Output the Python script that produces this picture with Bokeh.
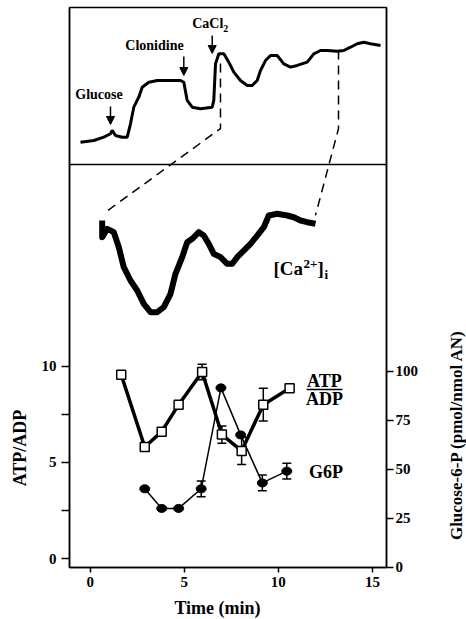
import math
from bokeh.plotting import figure
from bokeh.layouts import row, column
from bokeh.models import (Range1d, LinearAxis, FixedTicker, Span, Label, Arrow,
                          NormalHead, Whisker, TeeHead, ColumnDataSource)
from bokeh.embed import file_html
from bokeh.resources import INLINE

# ---------------- data ----------------
# ATP/ADP ratio (left axis)
atp_time = [1.65, 2.9, 3.8, 4.7, 5.95, 7.0, 8.05, 9.2, 10.6]
atp_ratio = [9.55, 5.8, 6.6, 8.0, 9.7, 6.45, 5.6, 8.0, 8.85]
atp_err_time = [5.95, 7.0, 8.05, 9.2]
atp_err_val = [9.7, 6.45, 5.6, 8.0]
atp_err = [0.4, 0.45, 0.7, 0.85]

# Glucose-6-P (right axis)
g6p_time = [2.9, 3.8, 4.7, 5.9, 6.95, 8.0, 9.15, 10.45]
g6p_val = [40.0, 30.0, 30.0, 40.0, 91.5, 67.5, 43.0, 49.0]
g6p_err_time = [5.9, 9.15, 10.45]
g6p_err_val = [40.0, 43.0, 49.0]
g6p_err = [4.0, 4.0, 4.0]

left_ticks = [0, 5, 10]
left_minor = [2.5, 7.5]
right_ticks = [0, 25, 50, 75, 100]
time_ticks = [0, 5, 10, 15]

# full [Ca2+]i recording (arbitrary time / ratio units)
trace_time = [3.47, 7.67, 10.82, 12.93, 13.47, 14.51, 16.62, 18.20, 19.24, 20.28,
              21.86, 22.93, 25.02, 27.67, 30.82, 35.02, 36.06, 37.13, 38.71, 41.32,
              45.02, 45.52, 46.06, 47.10, 48.68, 50.25, 51.83, 53.94, 56.06, 57.63,
              59.21, 60.25, 61.83, 63.41, 65.52, 67.60, 69.72, 71.83, 74.98, 77.07,
              79.18, 81.29, 84.45, 86.53, 88.64, 90.76, 92.84, 94.95, 98.11]
trace_ratio = [14.2, 15.3, 17.4, 19.6, 21.7, 18.5, 17.4, 17.4, 25.9, 36.5,
               42.9, 49.2, 52.4, 53.5, 53.5, 53.5, 52.4, 40.8, 36.5, 35.5,
               36.5, 40.8, 64.1, 70.5, 70.5, 65.2, 58.8, 53.5, 50.3, 50.3,
               53.5, 59.9, 66.2, 69.4, 69.4, 64.1, 62.0, 63.1, 65.2, 70.5,
               72.6, 72.6, 72.2, 72.6, 74.7, 76.9, 77.9, 76.9, 75.8]

# expanded segment of the recording (after CaCl2)
zoom_time = [47.40, 47.40, 48.28, 49.44, 50.32, 51.19, 52.37, 53.55, 54.71, 55.88,
             57.06, 58.22, 59.40, 60.27, 61.45, 62.33, 63.21, 64.37, 65.24, 66.12,
             67.00, 68.18, 69.35, 70.23, 71.11, 72.27, 73.45, 74.62, 75.78, 76.66,
             78.13, 79.89, 81.05, 82.23, 83.40, 84.86]
zoom_ratio = [70.95, 67.19, 69.08, 68.32, 64.94, 60.43, 57.44, 55.19, 52.19, 50.30,
              50.30, 51.43, 54.44, 58.95, 62.69, 66.06, 66.83, 68.32, 67.57, 65.70,
              63.45, 62.69, 61.20, 61.20, 62.69, 64.19, 65.70, 67.57, 69.44, 72.08,
              72.46, 72.08, 71.69, 70.95, 70.57, 70.21]
zoom_window = [47.63, 84.86]      # recording times expanded below

events = ["Glucose", "Clonidine", "CaCl"]
event_time = [12.93, 36.06, 45.02]

# ---------------- layout ----------------
TOTAL_W, TOTAL_H = 466, 619
LW, RW = 28, 26                   # side strips holding the vertical titles
MW, MH = TOTAL_W - LW - RW, 595   # main figure
TH = TOTAL_H - MH                 # bottom strip holding the time title
BL, BR, BT, BB = 41, 54, 7, 28
FL, FR = BL, MW - BR
FT, FB = BT, MH - BB

FONT = "Liberation Serif"
lab_kw = dict(text_font=FONT, text_font_style="bold", text_color="black")


def strip(w, h):
    f = figure(width=w, height=h, output_backend="svg", toolbar_location=None,
               x_range=Range1d(0, w), y_range=Range1d(0, h),
               x_axis_type=None, y_axis_type=None, min_border=0)
    f.grid.visible = False
    f.outline_line_color = None
    f.background_fill_color = "white"
    f.border_fill_color = "white"
    return f


p = figure(width=MW, height=MH, output_backend="svg", toolbar_location=None,
           x_range=Range1d(-1.1, 15.75), y_range=Range1d(-0.452, 28.62),
           min_border_left=BL, min_border_right=BR, min_border_top=BT,
           min_border_bottom=BB, x_axis_type=None, y_axis_type=None)
p.grid.visible = False
p.outline_line_color = "black"
p.outline_line_width = 1.5
p.background_fill_color = "white"
p.border_fill_color = "white"

p.extra_y_ranges = {"g6p": Range1d(-0.15, 285.56),
                    "vtop": Range1d(-256.7, 100.0),
                    "vmid": Range1d(-7.19, 118.92)}
p.extra_x_ranges = {"ttop": Range1d(0, 100),
                    "tmid": Range1d(41.66, 97.33)}


def style_axis(ax):
    ax.axis_line_color = "black"
    ax.axis_line_width = 1.5
    ax.major_tick_line_color = "black"
    ax.major_tick_line_width = 1.5
    ax.major_tick_in = 0
    ax.major_label_text_font = FONT
    ax.major_label_text_font_style = "bold"
    ax.major_label_text_font_size = "15px"
    ax.major_label_text_color = "black"


xax = LinearAxis(ticker=FixedTicker(ticks=time_ticks))
style_axis(xax)
xax.major_tick_out = 5
xax.major_label_standoff = 4
xax.minor_tick_line_color = None
p.add_layout(xax, "below")

lax = LinearAxis(ticker=FixedTicker(ticks=left_ticks, minor_ticks=left_minor))
style_axis(lax)
lax.major_tick_out = 8
lax.minor_tick_out = 8
lax.minor_tick_in = 0
lax.minor_tick_line_color = "black"
lax.minor_tick_line_width = 1.5
lax.major_label_standoff = 5
p.add_layout(lax, "left")

rax = LinearAxis(y_range_name="g6p", ticker=FixedTicker(ticks=right_ticks))
style_axis(rax)
rax.major_tick_out = 7
rax.major_label_standoff = 2
rax.minor_tick_line_color = None
p.add_layout(rax, "right")

# divider between the recording panel and the lower panel
p.add_layout(Span(location=0, dimension="width", y_range_name="vtop",
                  line_color="black", line_width=1.5))

# ---------- recordings ----------
p.line(trace_time, trace_ratio, x_range_name="ttop", y_range_name="vtop",
       line_color="black", line_width=3)
p.line(zoom_time, zoom_ratio, x_range_name="tmid", y_range_name="vmid",
       line_color="black", line_width=6, line_join="round")


def to_px(v, r, a, b):
    return a + (v - r.start) / (r.end - r.start) * (b - a)


def from_px(q, r, a, b):
    return r.start + (q - a) / (b - a) * (r.end - r.start)


tt, vt = p.extra_x_ranges["ttop"], p.extra_y_ranges["vtop"]
tm, vm = p.extra_x_ranges["tmid"], p.extra_y_ranges["vmid"]

dash_top = [64.3, 72.6]          # where the dashed lines leave the trace
dash_knee = [22.9, 22.9]
dash_end = [72.5, 72.1]          # just above the expanded trace ends
for k in range(2):
    t0 = zoom_window[k]
    ex = from_px(to_px(t0, tm, FL, FR), tt, FL, FR)
    ey = from_px(to_px(dash_end[k], vm, FB, FT), vt, FB, FT)
    p.line([t0, t0, ex], [dash_top[k], dash_knee[k], ey],
           x_range_name="ttop", y_range_name="vtop", line_color="black",
           line_width=1.5, line_dash="9 6")

# event arrows and labels
arrow_top = [36.9, 68.8, 82.2]
arrow_tip = [25.5, 56.7, 70.7]
for k in range(3):
    p.add_layout(Arrow(x_start=event_time[k], y_start=arrow_top[k],
                       x_end=event_time[k], y_end=arrow_tip[k],
                       x_range_name="ttop", y_range_name="vtop",
                       line_color="black", line_width=1.5,
                       end=NormalHead(size=8, fill_color="black",
                                      line_color="black")))

p.add_layout(Label(x=9.31, y=44.6, text="Glucose", x_range_name="ttop",
                   y_range_name="vtop", text_align="center",
                   text_baseline="middle", text_font_size="14px", **lab_kw))
p.add_layout(Label(x=26.81, y=75.8, text="Clonidine", x_range_name="ttop",
                   y_range_name="vtop", text_align="center",
                   text_baseline="middle", text_font_size="14px", **lab_kw))
p.add_layout(Label(x=38.7, y=90.1, text="CaCl", x_range_name="ttop",
                   y_range_name="vtop", text_align="left",
                   text_baseline="middle", text_font_size="14px", **lab_kw))
p.add_layout(Label(x=38.7, y=90.1, text="2", x_range_name="ttop",
                   y_range_name="vtop", text_align="left", x_offset=31,
                   y_offset=-5, text_baseline="middle", text_font_size="10px",
                   **lab_kw))

# [Ca2+]i label
p.add_layout(Label(x=77.48, y=60.1, text="[Ca", x_range_name="tmid",
                   y_range_name="vmid", text_align="left",
                   text_baseline="middle", text_font_size="19px", **lab_kw))
p.add_layout(Label(x=77.48, y=60.1, text="2+", x_range_name="tmid",
                   y_range_name="vmid", text_align="left", x_offset=30,
                   y_offset=5, text_baseline="middle", text_font_size="13px",
                   **lab_kw))
p.add_layout(Label(x=77.48, y=60.1, text="]", x_range_name="tmid",
                   y_range_name="vmid", text_align="left", x_offset=44,
                   text_baseline="middle", text_font_size="19px", **lab_kw))
p.add_layout(Label(x=77.48, y=60.1, text="i", x_range_name="tmid",
                   y_range_name="vmid", text_align="left", x_offset=51,
                   y_offset=-6, text_baseline="middle", text_font_size="13px",
                   **lab_kw))

# ---------- ATP/ADP and G6P ----------
p.line(g6p_time, g6p_val, y_range_name="g6p", line_color="black", line_width=1.5)
p.line(atp_time, atp_ratio, line_color="black", line_width=3.5)

g_src = ColumnDataSource(dict(x=g6p_err_time,
                              lo=[v - e for v, e in zip(g6p_err_val, g6p_err)],
                              hi=[v + e for v, e in zip(g6p_err_val, g6p_err)]))
p.add_layout(Whisker(source=g_src, base="x", lower="lo", upper="hi",
                     y_range_name="g6p", line_color="black", line_width=1.5,
                     lower_head=TeeHead(size=9, line_width=1.5),
                     upper_head=TeeHead(size=9, line_width=1.5)))
a_src = ColumnDataSource(dict(x=atp_err_time,
                              lo=[v - e for v, e in zip(atp_err_val, atp_err)],
                              hi=[v + e for v, e in zip(atp_err_val, atp_err)]))
p.add_layout(Whisker(source=a_src, base="x", lower="lo", upper="hi",
                     line_color="black", line_width=1.5,
                     lower_head=TeeHead(size=9, line_width=1.5),
                     upper_head=TeeHead(size=9, line_width=1.5)))

p.ellipse(g6p_time, g6p_val, width=10, height=8, width_units="screen",
          height_units="screen", y_range_name="g6p", fill_color="black",
          line_color="black")
p.scatter(atp_time, atp_ratio, marker="square", size=9, fill_color="white",
          line_color="black", line_width=1.5)

# series labels
p.add_layout(Label(x=12.45, y=9.21, text="ATP", text_align="center",
                   text_baseline="middle", text_font_size="18px", **lab_kw))
p.add_layout(Label(x=12.45, y=8.27, text="ADP", text_align="center",
                   text_baseline="middle", text_font_size="18px", **lab_kw))
p.segment(x0=[11.5], y0=[8.79], x1=[13.41], y1=[8.79], line_color="black",
          line_width=1.5)
p.add_layout(Label(x=12.53, y=4.48, text="G6P", text_align="center",
                   text_baseline="middle", text_font_size="18px", **lab_kw))

# ---------- axis titles in thin side strips ----------
lf = strip(LW, MH)
lf.add_layout(Label(x=19, y=MH - 468, text="ATP/ADP", angle=math.pi / 2,
                    text_align="center", text_baseline="middle",
                    text_font_size="18px", **lab_kw))
rf = strip(RW, MH)
rf.add_layout(Label(x=16, y=MH - 454, text="Glucose-6-P (pmol/nmol AN)",
                    angle=math.pi / 2, text_align="center",
                    text_baseline="middle", text_font_size="17px", **lab_kw))
bf = strip(TOTAL_W, TH)
bf.add_layout(Label(x=217, y=TH - 12, text="Time (min)", text_align="center",
                    text_baseline="middle", text_font_size="18px", **lab_kw))

layout = column(row(lf, p, rf, spacing=0), bf, spacing=0)

open("out.html", "w").write(file_html(layout, INLINE))
